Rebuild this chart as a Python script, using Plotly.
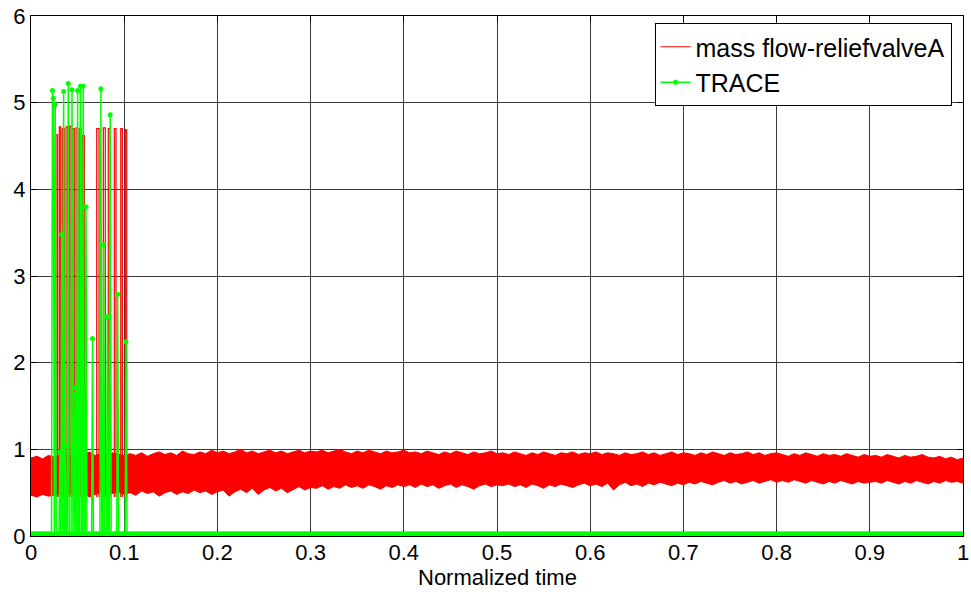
import numpy as np
import plotly.graph_objects as go

# ---------------- data ----------------
# Red band: upper / lower envelope of mass flow noise, sampled every 1/160 of normalized time
band_upper = [
    0.90, 0.92, 0.89, 0.93, 0.91,
    0.93, 0.95, 0.92, 0.96, 0.94, 0.97, 0.93, 0.95, 0.92, 0.96, 0.94, 0.93,
    0.95, 0.93, 0.96, 0.92, 0.95, 0.97, 0.94, 0.96, 0.93, 0.98, 0.95, 0.94, 0.97, 0.95, 0.99, 0.96,
    0.98, 0.95, 0.97, 1.00, 0.96, 0.98, 0.95, 0.97, 0.99, 0.96, 0.98, 0.95, 0.97, 0.99, 0.96, 0.98,
    0.97, 0.99, 0.96, 0.98, 1.00, 0.97, 0.95, 0.98, 0.96, 0.99, 0.97, 0.95, 0.98, 0.96, 0.97, 0.99,
    0.96, 0.97, 0.95, 0.98, 0.96, 0.94, 0.97, 0.95, 0.98, 0.96, 0.94, 0.97, 0.95, 0.96, 0.98, 0.95,
    0.96, 0.94, 0.97, 0.95, 0.93, 0.96, 0.94, 0.97, 0.95, 0.93, 0.96, 0.95, 0.97, 0.94, 0.96, 0.95,
    0.97, 0.94, 0.96, 0.95, 0.93, 0.96, 0.94, 0.95, 0.97, 0.94, 0.96, 0.93, 0.95, 0.97, 0.94, 0.96,
    0.95, 0.93, 0.96, 0.94, 0.97, 0.95, 0.93, 0.96, 0.94, 0.95, 0.97, 0.94, 0.96, 0.93, 0.95, 0.96,
    0.94, 0.92, 0.95, 0.93, 0.96, 0.94, 0.92, 0.95, 0.93, 0.94, 0.92, 0.95, 0.93, 0.91, 0.94, 0.92,
    0.93, 0.91, 0.94, 0.92, 0.90, 0.93, 0.91, 0.92, 0.94, 0.91, 0.90, 0.92, 0.89, 0.91, 0.88, 0.90,
]
band_lower = [
    0.47, 0.45, 0.48, 0.46, 0.47,
    0.48, 0.46, 0.50, 0.47, 0.49, 0.45, 0.48, 0.50, 0.47, 0.49, 0.51, 0.48,
    0.50, 0.47, 0.52, 0.49, 0.51, 0.46, 0.50, 0.52, 0.48, 0.51, 0.49, 0.53, 0.50, 0.52, 0.48, 0.51,
    0.53, 0.46, 0.51, 0.54, 0.50, 0.55, 0.48, 0.53, 0.56, 0.52, 0.55, 0.50, 0.54, 0.57, 0.53, 0.56,
    0.55, 0.58, 0.54, 0.57, 0.55, 0.59, 0.56, 0.58, 0.55, 0.59, 0.57, 0.54, 0.58, 0.56, 0.59, 0.57,
    0.59, 0.56, 0.60, 0.57, 0.59, 0.55, 0.58, 0.60, 0.56, 0.59, 0.57, 0.54, 0.58, 0.60, 0.57, 0.59,
    0.58, 0.60, 0.57, 0.59, 0.56, 0.60, 0.58, 0.55, 0.59, 0.57, 0.60, 0.58, 0.56, 0.59, 0.61, 0.58,
    0.60, 0.57, 0.61, 0.53, 0.59, 0.62, 0.58, 0.60, 0.57, 0.61, 0.59, 0.62, 0.60, 0.58, 0.61, 0.59,
    0.62, 0.60, 0.63, 0.61, 0.59, 0.62, 0.64, 0.61, 0.63, 0.60, 0.62, 0.64, 0.61, 0.63, 0.65, 0.62,
    0.64, 0.62, 0.65, 0.63, 0.61, 0.64, 0.62, 0.60, 0.63, 0.61, 0.64, 0.62, 0.60, 0.63, 0.61, 0.62,
    0.63, 0.61, 0.64, 0.62, 0.60, 0.63, 0.61, 0.64, 0.62, 0.60, 0.63, 0.61, 0.64, 0.62, 0.63, 0.61,
]

# Red relief-valve pulses: start time, end time, top value
pulse_start = [0.0268, 0.0304, 0.0336, 0.0376, 0.0411, 0.0447, 0.0483, 0.0518, 0.0554,
               0.0705, 0.0776, 0.0829, 0.0894, 0.0963, 0.1012]
pulse_end = [0.0286, 0.0319, 0.0357, 0.0394, 0.0429, 0.0464, 0.0501, 0.0536, 0.0572,
             0.0730, 0.0797, 0.0848, 0.0912, 0.0980, 0.1027]
pulse_top = [4.63, 4.72, 4.70, 4.72, 4.73, 4.70, 4.71, 4.70, 4.62,
             4.70, 4.71, 4.70, 4.70, 4.70, 4.69]
pulse_base = 0.45

# TRACE: zero everywhere except these samples
trace_spike_t = [0.023, 0.024, 0.026, 0.031, 0.033, 0.035, 0.037, 0.040, 0.044, 0.046,
                 0.048, 0.050, 0.053, 0.056, 0.059, 0.066, 0.075, 0.078, 0.082, 0.085,
                 0.093, 0.102]
trace_spike_v = [5.14, 5.05, 4.98, 0.97, 3.48, 5.13, 1.04, 5.22, 5.15, 1.63,
                 1.71, 5.14, 5.19, 5.19, 3.80, 2.28, 5.16, 3.36, 2.53, 4.86,
                 2.79, 2.24]

x_ticks = [0, 0.1, 0.2, 0.3, 0.4, 0.5, 0.6, 0.7, 0.8, 0.9, 1]
x_tick_text = ["0", "0.1", "0.2", "0.3", "0.4", "0.5", "0.6", "0.7", "0.8", "0.9", "1"]
y_ticks = [0, 1, 2, 3, 4, 5, 6]
x_title = "Normalized time"

# ---------------- build traces ----------------
band_t = [float(v) for v in np.linspace(0, 1, len(band_upper))]

px, py = [], []
for s, e, top in zip(pulse_start, pulse_end, pulse_top):
    px += [s, s, e, e, None]
    py += [pulse_base, top, top, pulse_base, None]

trace_t = [round(i * 0.001, 4) for i in range(1001)]
trace_v = [0.0] * 1001
for t, v in zip(trace_spike_t, trace_spike_v):
    trace_v[int(round(t * 1000))] = v
under_size = [0 if v > 0 else 9 for v in trace_v]

fig = go.Figure()
fig.add_trace(go.Scatter(x=band_t, y=band_lower, mode="lines",
                         line=dict(color="#ff0000", width=1), showlegend=False, hoverinfo="skip"))
fig.add_trace(go.Scatter(x=band_t, y=band_upper, mode="lines", fill="tonexty",
                         fillcolor="#ff0000", line=dict(color="#ff0000", width=1),
                         showlegend=False, hoverinfo="skip"))
fig.add_trace(go.Scatter(x=px, y=py, mode="lines", name="mass flow-reliefvalveA",
                         line=dict(color="#ff0000", width=1.2)))
# thick look of the dense TRACE markers sitting on zero
fig.add_trace(go.Scatter(x=trace_t, y=trace_v, mode="markers", showlegend=False,
                         hoverinfo="skip",
                         marker=dict(color="#00ff00", size=under_size, line=dict(width=0))))
fig.add_trace(go.Scatter(x=trace_t, y=trace_v, mode="lines+markers", name="TRACE",
                         line=dict(color="#00ff00", width=1.5),
                         marker=dict(color="#00ff00", size=5, line=dict(width=0))))

font = "Liberation Sans, Arial, sans-serif"
axis_common = dict(showline=True, linecolor="black", linewidth=1, mirror="ticks",
                   ticks="inside", ticklen=6, tickcolor="black", showgrid=True,
                   gridcolor="#3a3a3a", gridwidth=1, zeroline=False, automargin=False,
                   tickfont=dict(family=font, size=22, color="black"))

fig.update_layout(
    width=971, height=592,
    margin=dict(l=31, r=8, t=16, b=56),
    paper_bgcolor="white", plot_bgcolor="white",
    font=dict(family=font, color="black"),
    xaxis=dict(range=[0, 1], tickvals=x_ticks, ticktext=x_tick_text,
               ticklabelstandoff=-3, layer="below traces", **axis_common),
    yaxis=dict(range=[0, 6], tickvals=y_ticks, **axis_common),
    legend=dict(x=0.669, y=0.9865, xanchor="left", yanchor="top",
                bgcolor="white", bordercolor="black", borderwidth=1,
                font=dict(family=font, size=25, color="black"),
                tracegroupgap=0, itemwidth=30, traceorder="normal"),
    annotations=[dict(text=x_title, xref="paper", yref="paper", x=0.5, y=-0.106,
                      xanchor="center", yanchor="bottom", showarrow=False, borderpad=0,
                      font=dict(family=font, size=22, color="black"))],
    showlegend=True,
)

fig.write_html("out.html")
